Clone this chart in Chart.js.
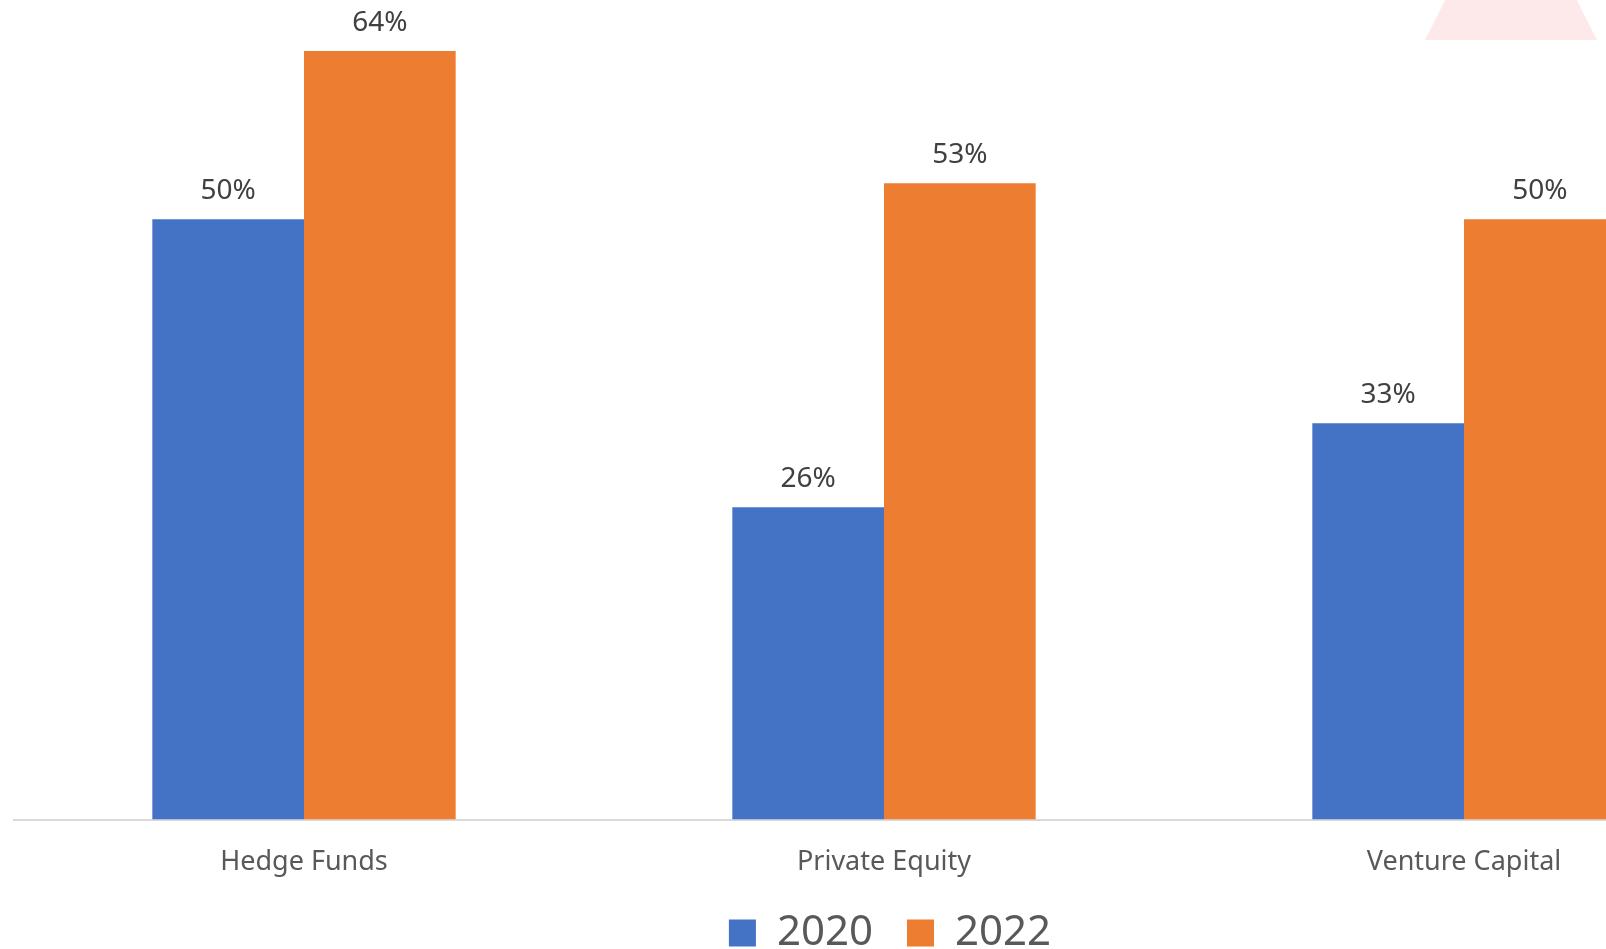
<!DOCTYPE html>
<html>
<head>
<meta charset="utf-8">
<script src="https://cdn.jsdelivr.net/npm/chart.js@4.4.1/dist/chart.umd.min.js"></script>
<style>
  html, body { margin: 0; padding: 0; background: #ffffff; overflow: hidden; width: 1606px; height: 949px; }
  #wrap { position: relative; width: 1606px; height: 949px; overflow: hidden; }
  #tri { position: absolute; left: 1425px; top: -130px; width: 172px; height: 170px; background: #fde9e9;
         clip-path: polygon(50% 0%, 100% 100%, 0% 100%); }
  canvas { position: absolute; left: 0; top: 0; }
</style>
</head>
<body>
<div id="wrap">
  <div id="tri"></div>
  <canvas id="c" width="1805" height="964"></canvas>
</div>
<script>
const categories = ["Hedge Funds", "Private Equity", "Venture Capital"];
const seriesNames = ["2020", "2022"];
const values2020 = [50, 26, 33];
const values2022 = [64, 53, 50];
const seriesColors = ["#4472C4", "#ED7D31"];

const FONT = "'Noto Sans', 'Open Sans', sans-serif";

const dataLabels = {
  id: 'dataLabels',
  afterDatasetsDraw(chart) {
    const ctx = chart.ctx;
    ctx.save();
    ctx.font = "28px " + FONT;
    ctx.fillStyle = "#404040";
    ctx.textAlign = "center";
    ctx.textBaseline = "alphabetic";
    chart.data.datasets.forEach((ds, i) => {
      const meta = chart.getDatasetMeta(i);
      meta.data.forEach((el, j) => {
        ctx.fillText(ds.data[j] + "%", el.x, el.y - 20);
      });
    });
    ctx.restore();
  }
};

new Chart(document.getElementById('c'), {
  type: 'bar',
  data: {
    labels: categories,
    datasets: [
      { label: seriesNames[0], data: values2020, backgroundColor: seriesColors[0], borderWidth: 0,
        categoryPercentage: 0.523, barPercentage: 1.0 },
      { label: seriesNames[1], data: values2022, backgroundColor: seriesColors[1], borderWidth: 0,
        categoryPercentage: 0.523, barPercentage: 1.0 }
    ]
  },
  options: {
    responsive: false,
    animation: false,
    events: [],
    layout: { padding: { left: 14, right: 39, top: 3, bottom: 0 } },
    plugins: {
      tooltip: { enabled: false },
      legend: {
        position: 'bottom',
        labels: {
          boxWidth: 27,
          boxHeight: 27,
          padding: 34,
          color: "#595959",
          font: { family: FONT, size: 42 }
        }
      }
    },
    scales: {
      x: {
        grid: { display: false },
        border: { display: true, color: "#d9d9d9", width: 2 },
        ticks: { color: "#595959", font: { family: FONT, size: 27 }, padding: 19 },
        afterFit: (scale) => { scale.height = scale.height - 20; }
      },
      y: {
        position: 'right',
        display: true,
        min: 0,
        max: 68,
        beginAtZero: true,
        grid: { display: false },
        border: { display: false },
        ticks: { display: false },
        afterFit: (scale) => { scale.width = 12; }
      }
    }
  },
  plugins: [dataLabels]
});
</script>
</body>
</html>
